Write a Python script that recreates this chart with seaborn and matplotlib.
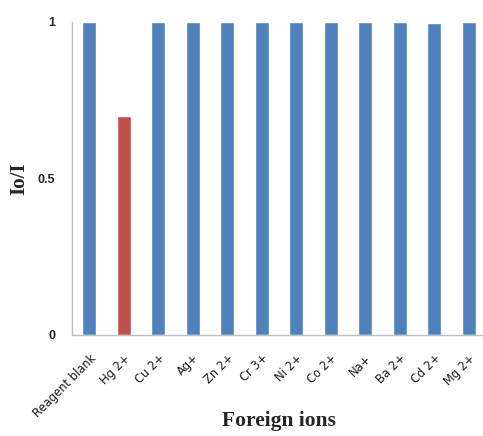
import matplotlib
matplotlib.use("Agg")
import matplotlib.pyplot as plt
import seaborn as sns
import pandas as pd
import numpy as np

ions = ["Reagent blank", "Hg 2+", "Cu 2+", "Ag+", "Zn 2+", "Cr 3+", "Ni 2+",
        "Co 2+", "Na+", "Ba 2+", "Cd 2+", "Mg 2+"]
ratio = [1.0, 0.70, 1.0, 1.0, 1.0, 1.0, 1.0, 1.0, 1.0, 1.0, 0.995, 1.0]
bar_colors = ["#4F81BD", "#C0504D"] + ["#4F81BD"] * 10

sns.set_style("white")
df = pd.DataFrame({"ion": ions, "ratio": ratio})

fig = plt.figure(figsize=(4.83, 4.36), dpi=100)
ax = fig.add_axes([0.149, 0.2317, 0.857, 0.718])

sns.barplot(data=df, x="ion", y="ratio", hue="ion", palette=bar_colors,
            width=0.4, legend=False, ax=ax, saturation=1)

ax.set_xlim(-0.5, len(ions) - 0.5)
ax.set_ylim(0, 1)
ax.set_yticks([0, 0.5, 1])
ax.set_yticklabels(["0", "0.5", "1"], fontsize=9, fontweight="bold",
                   family="Liberation Sans")
ax.tick_params(axis="y", length=3, color="#BFBFBF", pad=9)

# tick marks between categories, labels under each bar
ax.set_xticks(np.arange(len(ions)))
ax.set_xticklabels(ions, rotation=45, ha="right", rotation_mode="anchor",
                   fontsize=8.3, color="#1a1a1a", family="DejaVu Sans")
ax.tick_params(axis="x", length=0, pad=12)
ax.set_xticks(np.arange(-0.5, len(ions), 1), minor=True)
ax.tick_params(axis="x", which="minor", length=3, color="#BFBFBF")

for side in ["top", "right"]:
    ax.spines[side].set_visible(False)
for side in ["left", "bottom"]:
    ax.spines[side].set_color("#BFBFBF")
    ax.spines[side].set_linewidth(1.0)

ax.set_ylabel("Io/I", fontsize=15, fontweight="bold", family="Liberation Serif",
              labelpad=6)
ax.set_xlabel("Foreign ions", fontsize=15.5, fontweight="bold",
              family="Liberation Serif", labelpad=-6)

fig.savefig("out.png", dpi=100)
